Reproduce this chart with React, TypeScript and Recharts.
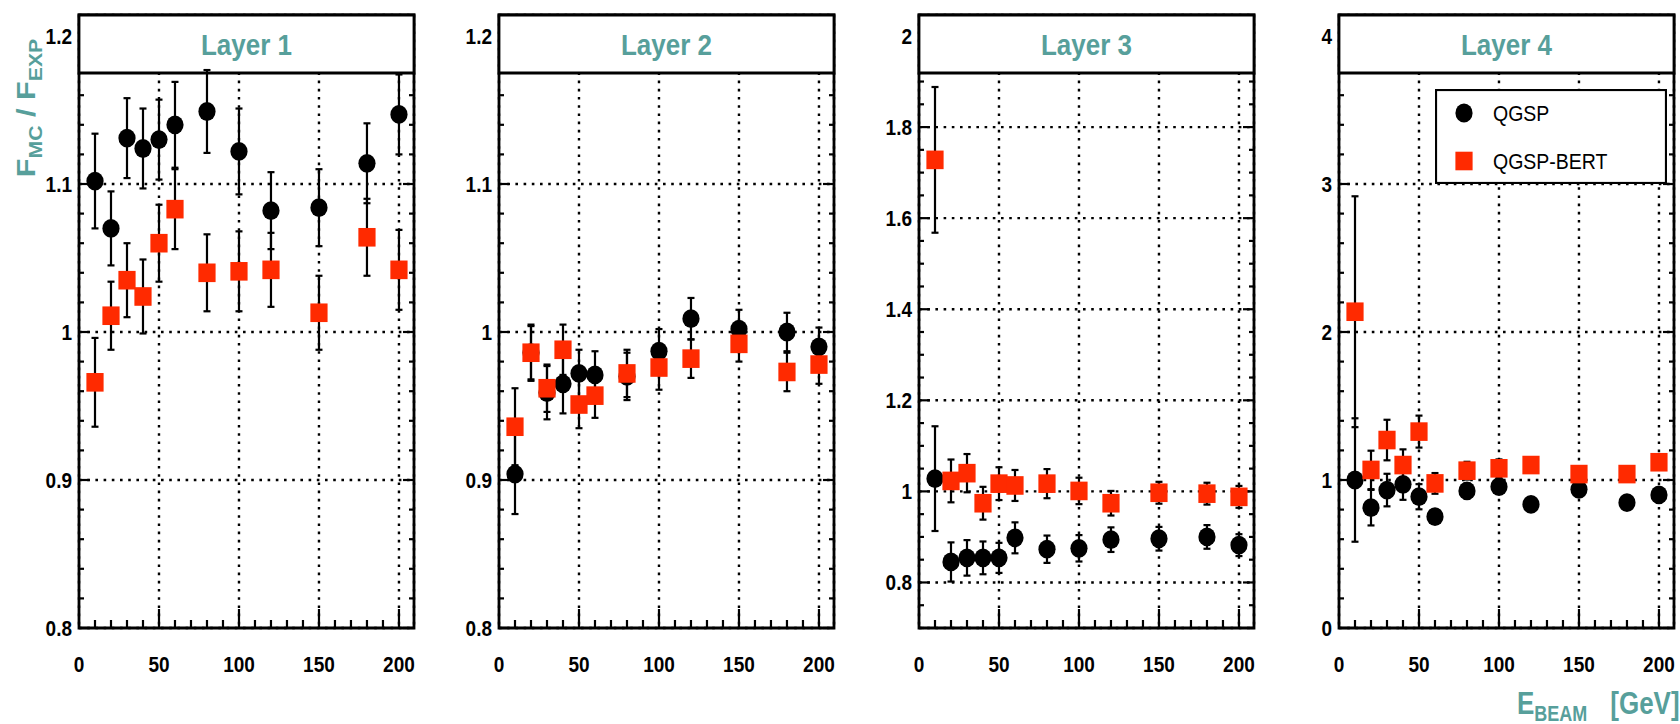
import React from 'react';
import {
  ScatterChart,
  Scatter,
  XAxis,
  YAxis,
  CartesianGrid,
  ErrorBar,
  ReferenceArea,
  ReferenceLine,
  Legend,
} from 'recharts';

const FONT = '"Liberation Sans", Arial, Helvetica, sans-serif';
const TEAL = '#579f9b';
const RED = '#ff2a00';
const STRETCH = 1.15;

// beam energies in GeV
const energies = [10, 20, 30, 40, 50, 60, 80, 100, 120, 150, 180, 200];
const seriesNames = ['QGSP', 'QGSP-BERT'];
const layerTitles = ['Layer 1', 'Layer 2', 'Layer 3', 'Layer 4'];
const xTicks = [0, 50, 100, 150, 200];

// F_MC / F_EXP, layer 1
const layer1Qgsp = [1.102, 1.07, 1.131, 1.124, 1.13, 1.14, 1.149, 1.122, 1.082, 1.084, 1.114, 1.147];
const layer1QgspErr = [0.032, 0.025, 0.027, 0.027, 0.027, 0.029, 0.028, 0.029, 0.026, 0.026, 0.027, 0.027];
const layer1Bert = [0.966, 1.011, 1.035, 1.024, 1.06, 1.083, 1.04, 1.041, 1.042, 1.013, 1.064, 1.042];
const layer1BertErr = [0.03, 0.023, 0.025, 0.025, 0.026, 0.027, 0.026, 0.027, 0.025, 0.025, 0.026, 0.027];

// layer 2
const layer2Qgsp = [0.904, 0.986, 0.959, 0.965, 0.972, 0.971, 0.97, 0.987, 1.009, 1.002, 1.0, 0.99];
const layer2QgspErr = [0.027, 0.019, 0.018, 0.02, 0.016, 0.016, 0.016, 0.015, 0.014, 0.013, 0.013, 0.013];
const layer2Bert = [0.936, 0.986, 0.962, 0.988, 0.951, 0.957, 0.972, 0.976, 0.982, 0.992, 0.973, 0.978];
const layer2BertErr = [0.026, 0.018, 0.016, 0.017, 0.016, 0.015, 0.016, 0.015, 0.013, 0.012, 0.013, 0.013];

// layer 3
const layer3Qgsp = [1.028, 0.845, 0.854, 0.854, 0.854, 0.898, 0.873, 0.875, 0.894, 0.896, 0.9, 0.882];
const layer3QgspErr = [0.115, 0.043, 0.039, 0.036, 0.033, 0.034, 0.03, 0.029, 0.027, 0.026, 0.026, 0.024];
const layer3Bert = [1.728, 1.023, 1.04, 0.974, 1.017, 1.013, 1.017, 1.001, 0.974, 0.997, 0.995, 0.988];
const layer3BertErr = [0.16, 0.047, 0.042, 0.036, 0.036, 0.034, 0.032, 0.029, 0.027, 0.024, 0.024, 0.024];

// layer 4
const layer4Qgsp = [1.0, 0.813, 0.932, 0.971, 0.887, 0.752, 0.926, 0.955, 0.835, 0.937, 0.847, 0.899];
const layer4QgspErr = [0.417, 0.12, 0.11, 0.105, 0.085, 0.03, 0.05, 0.05, 0.04, 0.04, 0.04, 0.04];
const layer4Bert = [2.137, 1.068, 1.27, 1.101, 1.327, 0.977, 1.063, 1.079, 1.101, 1.04, 1.04, 1.12];
const layer4BertErr = [0.78, 0.13, 0.137, 0.106, 0.108, 0.07, 0.06, 0.06, 0.05, 0.05, 0.05, 0.05];

// y ranges and tick labels per layer
const layer1Ticks = [0.8, 0.9, 1, 1.1, 1.2];
const layer3Ticks = [0.8, 1, 1.2, 1.4, 1.6, 1.8, 2];
const layer4Ticks = [0, 1, 2, 3, 4];

const PANEL_W = 420;
const PANEL_H = 724;
const PLOT_W = 335;
const PLOT_H = 613;
const LABELLED_H = 592; // height covered by the labelled y range
const TITLE_BOX_H = 58;
const X_MAX = 209.4;

const layers = [
  { qgsp: layer1Qgsp, qgspErr: layer1QgspErr, bert: layer1Bert, bertErr: layer1BertErr, yMin: 0.8, ticks: layer1Ticks, minorStep: 0.02 },
  { qgsp: layer2Qgsp, qgspErr: layer2QgspErr, bert: layer2Bert, bertErr: layer2BertErr, yMin: 0.8, ticks: layer1Ticks, minorStep: 0.02 },
  { qgsp: layer3Qgsp, qgspErr: layer3QgspErr, bert: layer3Bert, bertErr: layer3BertErr, yMin: 0.7, ticks: layer3Ticks, minorStep: 0.05 },
  { qgsp: layer4Qgsp, qgspErr: layer4QgspErr, bert: layer4Bert, bertErr: layer4BertErr, yMin: 0, ticks: layer4Ticks, minorStep: 0.2 },
];

const Dot = (p: any) => <ellipse cx={p.cx} cy={p.cy} rx={8.6} ry={9.4} fill="#000" />;
const Square = (p: any) => <rect x={p.cx - 8.6} y={p.cy - 9.3} width={17.2} height={18.6} fill={RED} />;

const YTick = ({ x, y, payload }: any) => (
  <g transform={`translate(${x},${y})`}>
    <text transform={`scale(1,${STRETCH})`} textAnchor="end" dominantBaseline="central"
      fontFamily={FONT} fontWeight="bold" fontSize={19} fill="#000">
      {String(payload.value)}
    </text>
  </g>
);

const XTick = ({ x, y, payload }: any) => (
  <g transform={`translate(${x},${y + 36})`}>
    <text transform={`scale(1,${STRETCH})`} textAnchor="middle" dominantBaseline="central"
      fontFamily={FONT} fontWeight="bold" fontSize={19} fill="#000">
      {String(payload.value)}
    </text>
  </g>
);

const YTitle = (props: any) => {
  const vb = props.viewBox || { x: 0, y: 15 };
  return (
    <text transform={`translate(${vb.x + 35},${vb.y + 93}) rotate(-90) scale(1.18,1)`}
      textAnchor="middle" fontFamily={FONT} fontWeight="bold" fontSize={26} fill={TEAL}>
      F<tspan fontSize={18} dy={7}>MC</tspan>
      <tspan dy={-7}> / F</tspan>
      <tspan fontSize={18} dy={7}>EXP</tspan>
    </text>
  );
};

const XTitle = (props: any) => {
  const vb = props.viewBox || { x: 79, y: 628 };
  return (
    <text transform={`translate(${vb.x + 178},${vb.y + 86}) scale(1,1.18)`}
      fontFamily={FONT} fontWeight="bold" fontSize={26} fill={TEAL}>
      E<tspan fontSize={18} dy={6}>BEAM</tspan>
      <tspan dy={-6} dx={23}>[GeV]</tspan>
    </text>
  );
};

const TitleLabel = ({ viewBox, text }: any) => (
  <g transform={`translate(${viewBox.x + viewBox.width / 2},${viewBox.y + viewBox.height / 2 + 1})`}>
    <text transform={`scale(1,${STRETCH})`} textAnchor="middle" dominantBaseline="central"
      fontFamily={FONT} fontWeight="bold" fontSize={26} fill={TEAL}>
      {text}
    </text>
  </g>
);

const LegendBox = () => (
  <svg width={232} height={95} style={{ display: 'block' }}>
    <rect x={1} y={1} width={230} height={93} fill="#fff" stroke="#000" strokeWidth={2.2} />
    <ellipse cx={29} cy={24} rx={8.6} ry={9.4} fill="#000" />
    <rect x={20.4} y={62.7} width={17.2} height={18.6} fill={RED} />
    {seriesNames.map((name, i) => (
      <g key={name} transform={`translate(58,${24 + i * 48})`}>
        <text transform={`scale(1,${STRETCH})`} dominantBaseline="central"
          fontFamily={FONT} fontSize={19.5} fill="#000">
          {name}
        </text>
      </g>
    ))}
  </svg>
);

function Panel({ index }: { index: number }) {
  const cfg = layers[index];
  const top = cfg.ticks[cfg.ticks.length - 1];
  const unitPx = LABELLED_H / (top - cfg.yMin);
  const yMax = cfg.yMin + PLOT_H / unitPx;
  const boxBottom = yMax - TITLE_BOX_H / unitPx;
  const xPx = PLOT_W / X_MAX;

  const qgspData = energies.map((e, i) => ({ e, v: cfg.qgsp[i], err: cfg.qgspErr[i] }));
  const bertData = energies.map((e, i) => ({ e, v: cfg.bert[i], err: cfg.bertErr[i] }));

  // tick marks drawn inward on all sides of the frame
  const yTickMarks: { v: number; major: boolean }[] = [];
  for (let k = 0; ; k++) {
    const v = +(cfg.yMin + k * cfg.minorStep).toFixed(4);
    if (v > boxBottom) break;
    yTickMarks.push({ v, major: cfg.ticks.some((t) => Math.abs(t - v) < 1e-6) });
  }
  const xTickMarks: { v: number; major: boolean }[] = [];
  for (let v = 10; v <= 200; v += 10) xTickMarks.push({ v, major: v % 50 === 0 });

  const tickStyle = { stroke: '#000', strokeWidth: 2.2 };

  return (
    <div style={{ position: 'absolute', left: index * PANEL_W, top: 0 }}>
      <ScatterChart width={PANEL_W} height={PANEL_H} margin={{ top: 15, right: 6, bottom: 56, left: 0 }}>
        <CartesianGrid stroke="#000" strokeWidth={2.4} strokeDasharray="2.6 5.6" />
        <XAxis type="number" dataKey="e" domain={[0, X_MAX]} ticks={xTicks} interval={0}
          allowDataOverflow axisLine={false} tickLine={false} tickSize={0} tickMargin={0}
          height={40} tick={<XTick />} label={index === 3 ? <XTitle /> : undefined} />
        <YAxis type="number" dataKey="v" domain={[cfg.yMin, yMax]} ticks={cfg.ticks} interval={0}
          allowDataOverflow axisLine={false} tickLine={false} tickSize={0} tickMargin={7}
          width={79} tick={<YTick />} label={index === 0 ? <YTitle /> : undefined} />
        {yTickMarks.map(({ v, major }) => {
          const len = (major ? 11 : 5) / xPx;
          return [
            <ReferenceLine key={`yl${v}`} segment={[{ x: 0, y: v }, { x: len, y: v }]} {...tickStyle} />,
            <ReferenceLine key={`yr${v}`} segment={[{ x: X_MAX - len, y: v }, { x: X_MAX, y: v }]} {...tickStyle} />,
          ];
        })}
        {xTickMarks.map(({ v, major }) => (
          <ReferenceLine key={`x${v}`} segment={[{ x: v, y: cfg.yMin }, { x: v, y: cfg.yMin + (major ? 19 : 8) / unitPx }]} {...tickStyle} />
        ))}
        <Scatter name={seriesNames[0]} data={qgspData} shape={<Dot />} fill="#000" isAnimationActive={false}>
          <ErrorBar dataKey="err" direction="y" width={3.5} stroke="#000" strokeWidth={2.2} isAnimationActive={false} />
        </Scatter>
        <Scatter name={seriesNames[1]} data={bertData} shape={<Square />} fill={RED} isAnimationActive={false}>
          <ErrorBar dataKey="err" direction="y" width={3.5} stroke="#000" strokeWidth={2.2} isAnimationActive={false} />
        </Scatter>
        <ReferenceArea x1={0} x2={X_MAX} y1={cfg.yMin} y2={yMax} fill="none" stroke="#000" strokeWidth={2.8} ifOverflow="visible" />
        <ReferenceArea x1={0} x2={X_MAX} y1={boxBottom} y2={yMax} fill="#fff" fillOpacity={1}
          stroke="#000" strokeWidth={2.8} ifOverflow="visible"
          label={<TitleLabel text={layerTitles[index]} />} />
        {index === 3 && (
          <Legend verticalAlign="middle" align="center" layout="horizontal"
            wrapperStyle={{ position: 'absolute', left: 175, top: 89, width: 232, height: 95 }}
            content={() => <LegendBox />} />
        )}
      </ScatterChart>
    </div>
  );
}

export default function App() {
  return (
    <div style={{ position: 'absolute', left: 0, top: 0, width: 1680, height: 724, background: '#fff' }}>
      {layers.map((_, i) => (
        <Panel key={i} index={i} />
      ))}
    </div>
  );
}
